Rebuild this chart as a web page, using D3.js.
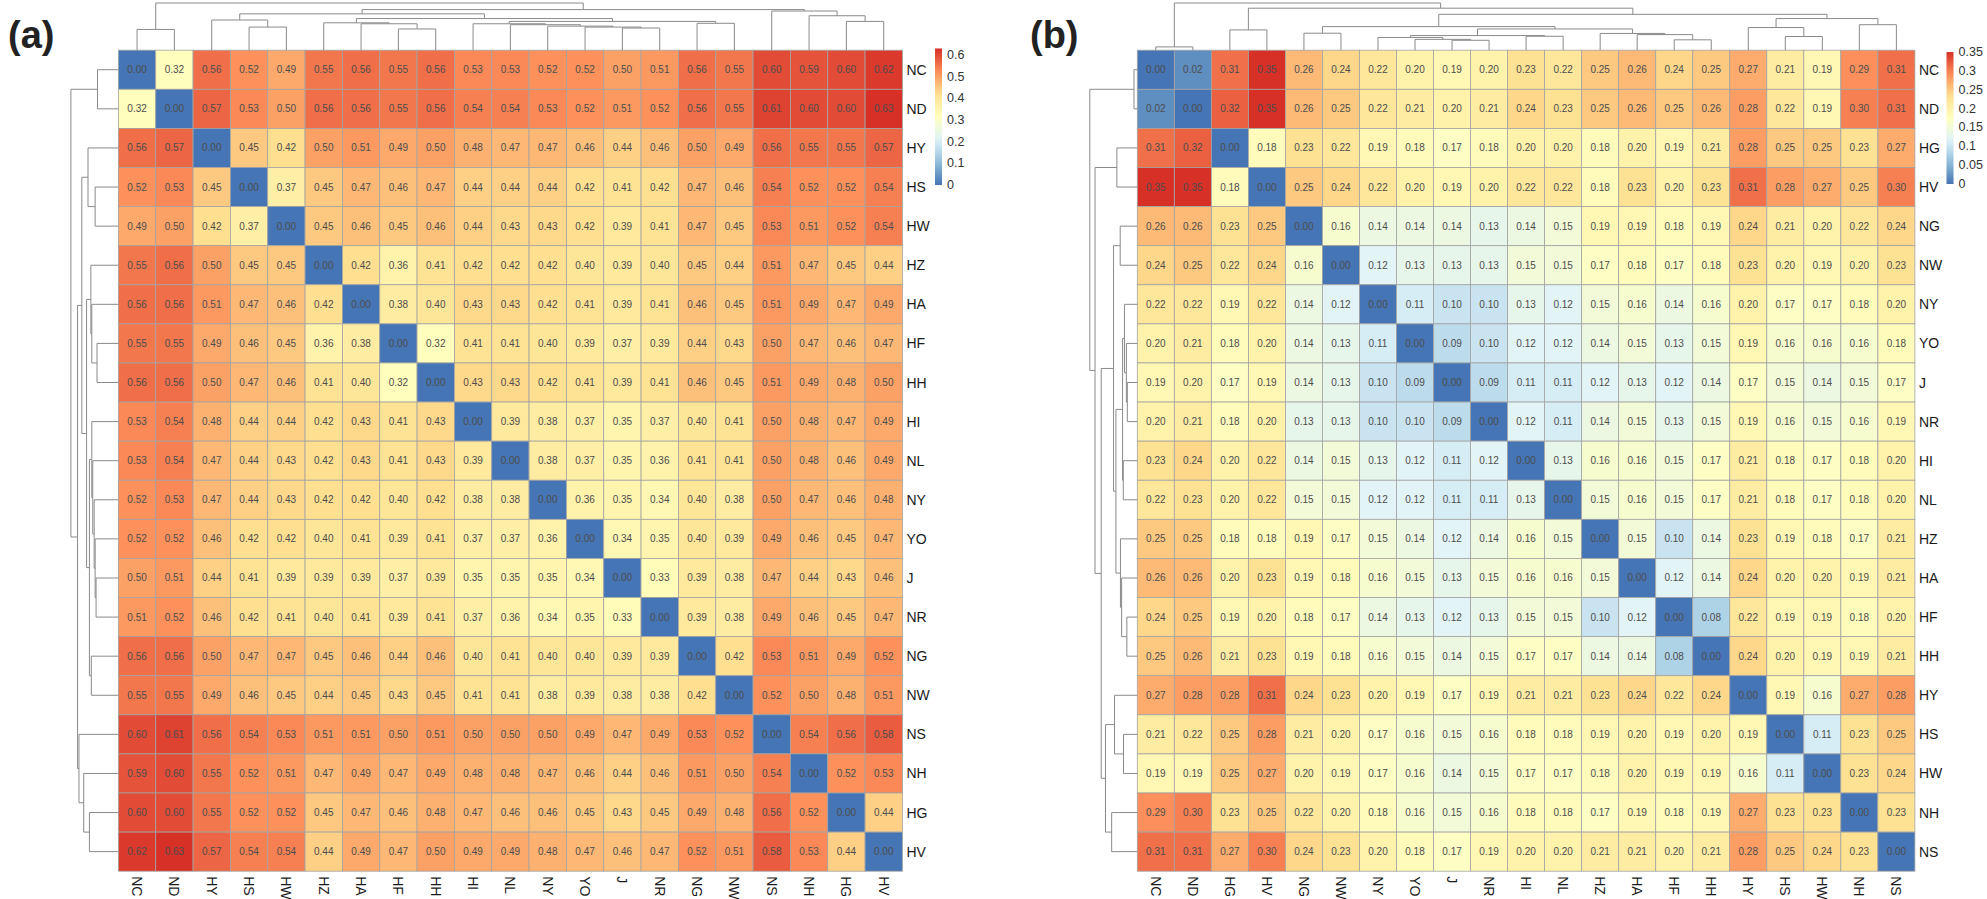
<!DOCTYPE html>
<html><head><meta charset="utf-8">
<script src="https://cdn.jsdelivr.net/npm/d3@7"></script>
<style>body{margin:0;background:#fff} svg{display:block}</style>
</head><body><svg id="c" width="1987" height="899"></svg>
<script>
// ---------- Panel (a) data ----------
const labelsA = ["NC","ND","HY","HS","HW","HZ","HA","HF","HH","HI","NL","NY","YO","J","NR","NG","NW","NS","NH","HG","HV"];
const valuesA = [
 [0.00,0.32,0.56,0.52,0.49,0.55,0.56,0.55,0.56,0.53,0.53,0.52,0.52,0.50,0.51,0.56,0.55,0.60,0.59,0.60,0.62],
 [0.32,0.00,0.57,0.53,0.50,0.56,0.56,0.55,0.56,0.54,0.54,0.53,0.52,0.51,0.52,0.56,0.55,0.61,0.60,0.60,0.63],
 [0.56,0.57,0.00,0.45,0.42,0.50,0.51,0.49,0.50,0.48,0.47,0.47,0.46,0.44,0.46,0.50,0.49,0.56,0.55,0.55,0.57],
 [0.52,0.53,0.45,0.00,0.37,0.45,0.47,0.46,0.47,0.44,0.44,0.44,0.42,0.41,0.42,0.47,0.46,0.54,0.52,0.52,0.54],
 [0.49,0.50,0.42,0.37,0.00,0.45,0.46,0.45,0.46,0.44,0.43,0.43,0.42,0.39,0.41,0.47,0.45,0.53,0.51,0.52,0.54],
 [0.55,0.56,0.50,0.45,0.45,0.00,0.42,0.36,0.41,0.42,0.42,0.42,0.40,0.39,0.40,0.45,0.44,0.51,0.47,0.45,0.44],
 [0.56,0.56,0.51,0.47,0.46,0.42,0.00,0.38,0.40,0.43,0.43,0.42,0.41,0.39,0.41,0.46,0.45,0.51,0.49,0.47,0.49],
 [0.55,0.55,0.49,0.46,0.45,0.36,0.38,0.00,0.32,0.41,0.41,0.40,0.39,0.37,0.39,0.44,0.43,0.50,0.47,0.46,0.47],
 [0.56,0.56,0.50,0.47,0.46,0.41,0.40,0.32,0.00,0.43,0.43,0.42,0.41,0.39,0.41,0.46,0.45,0.51,0.49,0.48,0.50],
 [0.53,0.54,0.48,0.44,0.44,0.42,0.43,0.41,0.43,0.00,0.39,0.38,0.37,0.35,0.37,0.40,0.41,0.50,0.48,0.47,0.49],
 [0.53,0.54,0.47,0.44,0.43,0.42,0.43,0.41,0.43,0.39,0.00,0.38,0.37,0.35,0.36,0.41,0.41,0.50,0.48,0.46,0.49],
 [0.52,0.53,0.47,0.44,0.43,0.42,0.42,0.40,0.42,0.38,0.38,0.00,0.36,0.35,0.34,0.40,0.38,0.50,0.47,0.46,0.48],
 [0.52,0.52,0.46,0.42,0.42,0.40,0.41,0.39,0.41,0.37,0.37,0.36,0.00,0.34,0.35,0.40,0.39,0.49,0.46,0.45,0.47],
 [0.50,0.51,0.44,0.41,0.39,0.39,0.39,0.37,0.39,0.35,0.35,0.35,0.34,0.00,0.33,0.39,0.38,0.47,0.44,0.43,0.46],
 [0.51,0.52,0.46,0.42,0.41,0.40,0.41,0.39,0.41,0.37,0.36,0.34,0.35,0.33,0.00,0.39,0.38,0.49,0.46,0.45,0.47],
 [0.56,0.56,0.50,0.47,0.47,0.45,0.46,0.44,0.46,0.40,0.41,0.40,0.40,0.39,0.39,0.00,0.42,0.53,0.51,0.49,0.52],
 [0.55,0.55,0.49,0.46,0.45,0.44,0.45,0.43,0.45,0.41,0.41,0.38,0.39,0.38,0.38,0.42,0.00,0.52,0.50,0.48,0.51],
 [0.60,0.61,0.56,0.54,0.53,0.51,0.51,0.50,0.51,0.50,0.50,0.50,0.49,0.47,0.49,0.53,0.52,0.00,0.54,0.56,0.58],
 [0.59,0.60,0.55,0.52,0.51,0.47,0.49,0.47,0.49,0.48,0.48,0.47,0.46,0.44,0.46,0.51,0.50,0.54,0.00,0.52,0.53],
 [0.60,0.60,0.55,0.52,0.52,0.45,0.47,0.46,0.48,0.47,0.46,0.46,0.45,0.43,0.45,0.49,0.48,0.56,0.52,0.00,0.44],
 [0.62,0.63,0.57,0.54,0.54,0.44,0.49,0.47,0.50,0.49,0.49,0.48,0.47,0.46,0.47,0.52,0.51,0.58,0.53,0.44,0.00]
];
// dendrogram: [height, left, right]
const treeA = [1.0,
  [0.44,"NC","ND"],
  [0.86,
    [0.77,
      [0.64,"HY",[0.49,"HS","HW"]],
      [0.67,
        [0.58,"HZ",[0.56,"HA",[0.45,"HF","HH"]]],
        [0.61,
          [0.56,"HI",[0.54,"NL",[0.51,"NY",[0.49,"YO",[0.47,"J","NR"]]]]],
          [0.57,"NG","NW"]]]],
    [0.83,"NS",[0.73,"NH",[0.61,"HG","HV"]]]]];
const ticksA = [0,0.1,0.2,0.3,0.4,0.5,0.6];

// ---------- Panel (b) data ----------
const labelsB = ["NC","ND","HG","HV","NG","NW","NY","YO","J","NR","HI","NL","HZ","HA","HF","HH","HY","HS","HW","NH","NS"];
const valuesB = [
 [0.00,0.02,0.31,0.35,0.26,0.24,0.22,0.20,0.19,0.20,0.23,0.22,0.25,0.26,0.24,0.25,0.27,0.21,0.19,0.29,0.31],
 [0.02,0.00,0.32,0.35,0.26,0.25,0.22,0.21,0.20,0.21,0.24,0.23,0.25,0.26,0.25,0.26,0.28,0.22,0.19,0.30,0.31],
 [0.31,0.32,0.00,0.18,0.23,0.22,0.19,0.18,0.17,0.18,0.20,0.20,0.18,0.20,0.19,0.21,0.28,0.25,0.25,0.23,0.27],
 [0.35,0.35,0.18,0.00,0.25,0.24,0.22,0.20,0.19,0.20,0.22,0.22,0.18,0.23,0.20,0.23,0.31,0.28,0.27,0.25,0.30],
 [0.26,0.26,0.23,0.25,0.00,0.16,0.14,0.14,0.14,0.13,0.14,0.15,0.19,0.19,0.18,0.19,0.24,0.21,0.20,0.22,0.24],
 [0.24,0.25,0.22,0.24,0.16,0.00,0.12,0.13,0.13,0.13,0.15,0.15,0.17,0.18,0.17,0.18,0.23,0.20,0.19,0.20,0.23],
 [0.22,0.22,0.19,0.22,0.14,0.12,0.00,0.11,0.10,0.10,0.13,0.12,0.15,0.16,0.14,0.16,0.20,0.17,0.17,0.18,0.20],
 [0.20,0.21,0.18,0.20,0.14,0.13,0.11,0.00,0.09,0.10,0.12,0.12,0.14,0.15,0.13,0.15,0.19,0.16,0.16,0.16,0.18],
 [0.19,0.20,0.17,0.19,0.14,0.13,0.10,0.09,0.00,0.09,0.11,0.11,0.12,0.13,0.12,0.14,0.17,0.15,0.14,0.15,0.17],
 [0.20,0.21,0.18,0.20,0.13,0.13,0.10,0.10,0.09,0.00,0.12,0.11,0.14,0.15,0.13,0.15,0.19,0.16,0.15,0.16,0.19],
 [0.23,0.24,0.20,0.22,0.14,0.15,0.13,0.12,0.11,0.12,0.00,0.13,0.16,0.16,0.15,0.17,0.21,0.18,0.17,0.18,0.20],
 [0.22,0.23,0.20,0.22,0.15,0.15,0.12,0.12,0.11,0.11,0.13,0.00,0.15,0.16,0.15,0.17,0.21,0.18,0.17,0.18,0.20],
 [0.25,0.25,0.18,0.18,0.19,0.17,0.15,0.14,0.12,0.14,0.16,0.15,0.00,0.15,0.10,0.14,0.23,0.19,0.18,0.17,0.21],
 [0.26,0.26,0.20,0.23,0.19,0.18,0.16,0.15,0.13,0.15,0.16,0.16,0.15,0.00,0.12,0.14,0.24,0.20,0.20,0.19,0.21],
 [0.24,0.25,0.19,0.20,0.18,0.17,0.14,0.13,0.12,0.13,0.15,0.15,0.10,0.12,0.00,0.08,0.22,0.19,0.19,0.18,0.20],
 [0.25,0.26,0.21,0.23,0.19,0.18,0.16,0.15,0.14,0.15,0.17,0.17,0.14,0.14,0.08,0.00,0.24,0.20,0.19,0.19,0.21],
 [0.27,0.28,0.28,0.31,0.24,0.23,0.20,0.19,0.17,0.19,0.21,0.21,0.23,0.24,0.22,0.24,0.00,0.19,0.16,0.27,0.28],
 [0.21,0.22,0.25,0.28,0.21,0.20,0.17,0.16,0.15,0.16,0.18,0.18,0.19,0.20,0.19,0.20,0.19,0.00,0.11,0.23,0.25],
 [0.19,0.19,0.25,0.27,0.20,0.19,0.17,0.16,0.14,0.15,0.17,0.17,0.18,0.20,0.19,0.19,0.16,0.11,0.00,0.23,0.24],
 [0.29,0.30,0.23,0.25,0.22,0.20,0.18,0.16,0.15,0.16,0.18,0.18,0.17,0.19,0.18,0.19,0.27,0.23,0.23,0.00,0.23],
 [0.31,0.31,0.27,0.30,0.24,0.23,0.20,0.18,0.17,0.19,0.20,0.20,0.21,0.21,0.20,0.21,0.28,0.25,0.24,0.23,0.00]
];
const treeB = [1.0,
  [0.07,"NC","ND"],
  [0.89,
    [0.43,"HG","HV"],
    [0.76,
      [0.50,
        [0.36,"NG","NW"],
        [0.45,
          [0.31,[0.27,"NY",[0.23,"YO",[0.21,"J","NR"]]],[0.295,"HI","NL"]],
          [0.355,"HZ",[0.33,"HA",[0.22,"HF","HH"]]]]],
      [0.67,
        [0.48,"HY",[0.29,"HS","HW"]],
        [0.54,"NH","NS"]]]]];
const ticksB = [0,0.05,0.1,0.15,0.2,0.25,0.3,0.35];

const palette = ["#4575B4","#91BFDB","#E0F3F8","#FFFFBF","#FEE090","#FC8D59","#D73027"];
const FONT = "'Liberation Sans', Arial, sans-serif";
const svg = d3.select("#c");

function drawPanel(cfg){
  const {labels, values, tree, ticks, x0, y0, w, h, legX, legY0, legPx, title, titleX, id} = cfg;
  const g = svg.append("g");
  const maxV = d3.max(values.flat());
  const color = d3.scaleLinear()
    .domain(d3.range(palette.length).map(i => i*maxV/(palette.length-1)))
    .range(palette).interpolate(d3.interpolateRgb);
  const xs = d3.scaleBand().domain(labels).range([x0, x0+w]);
  const ys = d3.scaleBand().domain(labels).range([y0, y0+h]);

  // cells
  const cells = [];
  values.forEach((row,i)=>row.forEach((v,j)=>cells.push({r:labels[i], c:labels[j], v})));
  g.selectAll("rect.cell").data(cells).enter().append("rect")
    .attr("x", d=>xs(d.c)).attr("y", d=>ys(d.r))
    .attr("width", xs.bandwidth()).attr("height", ys.bandwidth())
    .attr("fill", d=>color(d.v)).attr("stroke", "#a3a3a3").attr("stroke-width", 0.8);
  g.selectAll("text.num").data(cells).enter().append("text")
    .attr("x", d=>xs(d.c)+xs.bandwidth()/2).attr("y", d=>ys(d.r)+ys.bandwidth()/2)
    .attr("text-anchor","middle").attr("dominant-baseline","central")
    .attr("font-family", FONT).attr("font-size", 10).attr("fill", "#4d4d4d")
    .text(d=>d3.format(".2f")(d.v));

  // row labels
  g.selectAll("text.rl").data(labels).enter().append("text")
    .attr("x", x0+w+4).attr("y", d=>ys(d)+ys.bandwidth()/2)
    .attr("dominant-baseline","central").attr("font-family", FONT)
    .attr("font-size", 14).attr("fill", "#1a1a1a").text(d=>d);
  // column labels (rotated)
  g.selectAll("text.cl").data(labels).enter().append("text")
    .attr("transform", d=>`translate(${xs(d)+xs.bandwidth()/2},${y0+h+5}) rotate(90)`)
    .attr("dominant-baseline","central").attr("font-family", FONT)
    .attr("font-size", 14).attr("fill", "#1a1a1a").text(d=>d);

  // dendrograms
  const root = d3.hierarchy(tree, d => Array.isArray(d) ? d.slice(1) : null);
  root.eachAfter(n => {
    n.ht = Array.isArray(n.data) ? n.data[0] : 0;
    n.pos = n.children ? d3.mean(n.children, c=>c.pos) : labels.indexOf(n.data);
  });
  const idx = d3.scaleLinear().domain([0, labels.length-1]);
  const topX = idx.copy().range([x0+xs.bandwidth()/2, x0+w-xs.bandwidth()/2]);
  const leftY = idx.copy().range([y0+ys.bandwidth()/2, y0+h-ys.bandwidth()/2]);
  const hTop = d3.scaleLinear().domain([0, root.ht]).range([y0, 3]);
  const hLeft = d3.scaleLinear().domain([0, root.ht]).range([x0, x0-47.5]);
  const internals = root.descendants().filter(n=>n.children);
  g.selectAll("path.dt").data(internals).enter().append("path")
    .attr("d", n=>{const [a,b]=n.children;
      return `M${topX(a.pos)},${hTop(a.ht)}V${hTop(n.ht)}H${topX(b.pos)}V${hTop(b.ht)}`;})
    .attr("fill","none").attr("stroke","#8a8a8a").attr("stroke-width",1);
  g.selectAll("path.dl").data(internals).enter().append("path")
    .attr("d", n=>{const [a,b]=n.children;
      return `M${hLeft(a.ht)},${leftY(a.pos)}H${hLeft(n.ht)}V${leftY(b.pos)}H${hLeft(b.ht)}`;})
    .attr("fill","none").attr("stroke","#8a8a8a").attr("stroke-width",1);

  // legend
  const ls = d3.scaleLinear().domain([0,1]).range([legY0, legY0 - legPx]);
  const grad = svg.append("defs").append("linearGradient").attr("id", id)
    .attr("x1",0).attr("y1",1).attr("x2",0).attr("y2",0);
  d3.range(0,1.0001,0.05).forEach(t => grad.append("stop").attr("offset", t).attr("stop-color", color(t*maxV)));
  g.append("rect").attr("x", legX).attr("width", 7)
    .attr("y", ls(maxV)).attr("height", ls(0)-ls(maxV)).attr("fill", `url(#${id})`);
  g.selectAll("text.lt").data(ticks).enter().append("text")
    .attr("x", legX+12).attr("y", d=>ls(d)).attr("dominant-baseline","central")
    .attr("font-family", FONT).attr("font-size", 12.5).attr("fill", "#333").text(d=>d);

  // title
  g.append("text").attr("x", titleX).attr("y", 48).attr("font-family", "'Liberation Sans Narrow', 'Liberation Sans', Arial, sans-serif")
    .attr("font-weight","bold").attr("font-size", 38).attr("fill","#222").text(title);
}

drawPanel({labels:labelsA, values:valuesA, tree:treeA, ticks:ticksA,
  x0:118.4, y0:50.2, w:784, h:821, legX:935, legY0:185, legPx:216.7, title:"(a)", titleX:8, id:"gA"});
drawPanel({labels:labelsB, values:valuesB, tree:treeB, ticks:ticksB,
  x0:1137.3, y0:50.2, w:777.6, h:821, legX:1946.5, legY0:184, legPx:377, title:"(b)", titleX:1030, id:"gB"});
</script></body></html>
